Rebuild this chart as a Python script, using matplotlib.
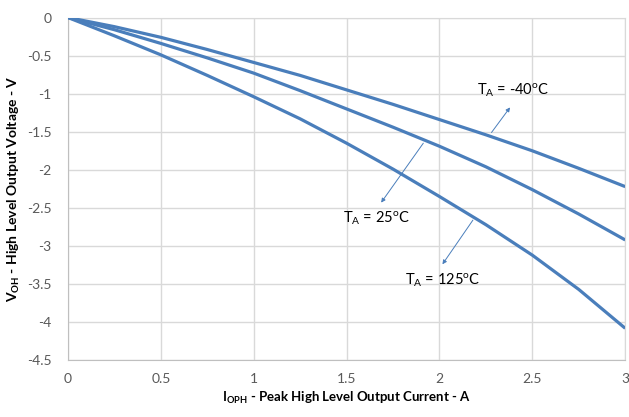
import matplotlib
matplotlib.use("Agg")
import matplotlib.pyplot as plt

plt.rcParams['font.family'] = ['Lato', 'DejaVu Sans']

current = [0, 0.25, 0.5, 0.75, 1.0, 1.25, 1.5, 1.75, 2.0, 2.25, 2.5, 2.75, 3.0]
v_m40 = [0, -0.12, -0.26, -0.42, -0.59, -0.76, -0.95, -1.14, -1.34, -1.54, -1.75, -1.98, -2.22]
v_25 = [0, -0.16, -0.34, -0.53, -0.73, -0.96, -1.20, -1.44, -1.69, -1.96, -2.26, -2.58, -2.92]
v_125 = [0, -0.24, -0.49, -0.76, -1.04, -1.33, -1.65, -1.99, -2.35, -2.72, -3.12, -3.57, -4.08]

x_ticks = [0, 0.5, 1, 1.5, 2, 2.5, 3]
x_ticklabels = ['0', '0.5', '1', '1.5', '2', '2.5', '3']
y_ticks = [0, -0.5, -1, -1.5, -2, -2.5, -3, -3.5, -4, -4.5]
y_ticklabels = ['0', '-0.5', '-1', '-1.5', '-2', '-2.5', '-3', '-3.5', '-4', '-4.5']

labels = [r'$\mathregular{T_A}$ = -40$\mathregular{^o}$C',
          r'$\mathregular{T_A}$ = 25$\mathregular{^o}$C',
          r'$\mathregular{T_A}$ = 125$\mathregular{^o}$C']
label_pos = [(2.20, -0.95), (1.48, -2.63), (1.815, -3.45)]
arrow_tail = [(2.28, -1.51), (1.913, -1.65), (2.18, -2.66)]
arrow_head = [(2.38, -1.18), (1.686, -2.43), (2.016, -3.24)]

line_color = '#4a7ebb'
grid_color = '#d9d9d9'

fig = plt.figure(figsize=(6.29, 4.17), dpi=100)
ax = fig.add_axes([0.108, 0.136, 0.886, 0.822])

for ys in (v_m40, v_25, v_125):
    ax.plot(current, ys, color=line_color, lw=2.3, solid_capstyle='butt',
            solid_joinstyle='round', zorder=3)

ax.set_xlim(0, 3)
ax.set_ylim(-4.5, 0)
ax.set_xticks(x_ticks)
ax.set_xticklabels(x_ticklabels)
ax.set_yticks(y_ticks)
ax.set_yticklabels(y_ticklabels)
ax.tick_params(axis='both', length=0, labelsize=10, labelcolor='#595959')
ax.tick_params(axis='x', pad=9)
ax.tick_params(axis='y', pad=12)
ax.grid(True, color=grid_color, lw=1)
ax.set_axisbelow(True)
for s in ('top', 'right'):
    ax.spines[s].set_color(grid_color)
for s in ('left', 'bottom'):
    ax.spines[s].set_color('#bfbfbf')

ax.set_xlabel(r'$\mathregular{I_{OPH}}$ - Peak High Level Output Current - A',
              fontsize=9.5, fontweight='bold', labelpad=4)
ax.set_ylabel(r'$\mathregular{V_{OH}}$ - High Level Output Voltage - V',
              fontsize=10, fontweight='bold', labelpad=3)

for lab, pos, tail, head in zip(labels, label_pos, arrow_tail, arrow_head):
    ax.text(pos[0], pos[1], lab, fontsize=10.5, va='center', ha='left', color='black')
    ax.annotate('', xy=head, xytext=tail,
                arrowprops=dict(arrowstyle='-|>', color=line_color, lw=0.7,
                                mutation_scale=6, shrinkA=0, shrinkB=0))

fig.savefig('out.png', dpi=100)
